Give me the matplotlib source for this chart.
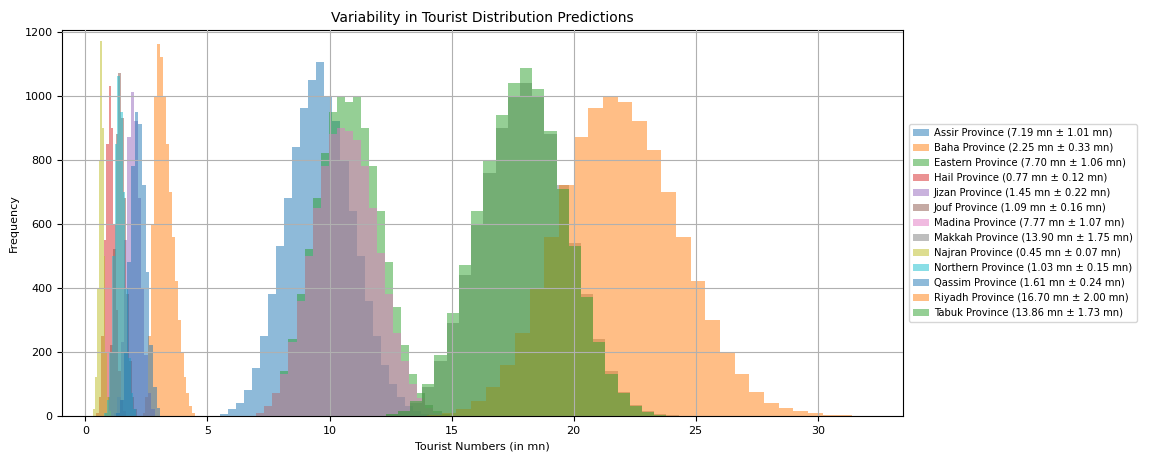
import numpy as np
import matplotlib
matplotlib.use("Agg")
import matplotlib.pyplot as plt

# (label, bin start, bin width, counts)
labels = ["Assir Province (7.19 mn ± 1.01 mn)", "Baha Province (2.25 mn ± 0.33 mn)",
          "Eastern Province (7.70 mn ± 1.06 mn)", "Hail Province (0.77 mn ± 0.12 mn)",
          "Jizan Province (1.45 mn ± 0.22 mn)", "Jouf Province (1.09 mn ± 0.16 mn)",
          "Madina Province (7.77 mn ± 1.07 mn)", "Makkah Province (13.90 mn ± 1.75 mn)",
          "Najran Province (0.45 mn ± 0.07 mn)", "Northern Province (1.03 mn ± 0.15 mn)",
          "Qassim Province (1.61 mn ± 0.24 mn)", "Riyadh Province (16.70 mn ± 2.00 mn)",
          "Tabuk Province (13.86 mn ± 1.73 mn)"]
starts = [5.5, 2.34, 7.0, 0.45, 1.16, 0.8, 7.0, 12.3, 0.33, 0.76, 1.27, 14.0, 12.3]
widths = [0.33, 0.12, 0.33, 0.1, 0.14, 0.11, 0.33, 0.5, 0.07, 0.11, 0.15, 0.6, 0.5]
counts = [
    [5, 20, 40, 80, 150, 250, 380, 530, 680, 840, 960, 1050, 1105, 1000, 920, 800, 640, 500, 360, 250, 160, 100, 60, 30, 15, 5],
    [10, 60, 250, 600, 1000, 1160, 1120, 1000, 850, 700, 560, 420, 300, 200, 120, 70, 30, 10],
    [10, 30, 70, 140, 240, 380, 520, 680, 820, 950, 1000, 980, 1000, 900, 780, 640, 480, 340, 220, 130, 70, 35, 15, 5],
    [10, 60, 250, 550, 850, 1030, 900, 600, 330, 140, 50, 15],
    [10, 60, 230, 550, 870, 1010, 920, 680, 400, 190, 70, 20],
    [10, 60, 220, 520, 880, 1070, 930, 680, 380, 170, 60, 20],
    [10, 30, 70, 130, 230, 360, 500, 650, 780, 880, 900, 890, 860, 780, 650, 510, 380, 260, 170, 100, 55, 25, 10],
    [5, 15, 40, 90, 170, 290, 440, 600, 760, 900, 1000, 1040, 1000, 880, 720, 540, 380, 240, 140, 75, 35, 15, 5, 2],
    [20, 120, 400, 800, 1170, 900, 500, 200, 60, 15],
    [10, 50, 200, 500, 850, 1060, 950, 700, 400, 180, 70, 20],
    [10, 50, 200, 480, 780, 950, 910, 720, 450, 220, 90, 25],
    [3, 8, 20, 45, 90, 160, 260, 400, 560, 720, 870, 960, 1000, 980, 920, 830, 700, 560, 420, 300, 200, 130, 75, 40, 25, 15, 8, 4, 2],
    [5, 15, 45, 100, 190, 320, 470, 640, 800, 940, 1040, 1085, 1020, 890, 710, 530, 370, 230, 130, 70, 30, 12, 4, 1],
]

fig = plt.figure(figsize=(11.52, 4.55), dpi=100)
ax = fig.add_axes([0.054, 0.086, 0.73, 0.848])
for i, (lab, s, w, c) in enumerate(zip(labels, starts, widths, counts)):
    edges = s + w * np.arange(len(c) + 1)
    ax.stairs(c, edges, fill=True, alpha=0.5, color=f"C{i % 10}", label=lab)
ax.set_xlim(-0.95, 33.5)
ax.set_ylim(0, 1205)
ax.grid(True)
ax.set_axisbelow(False)
ax.set_xlabel("Tourist Numbers (in mn)", fontsize=8)
ax.set_ylabel("Frequency", fontsize=8)
ax.set_title("Variability in Tourist Distribution Predictions", fontsize=10)
ax.tick_params(labelsize=8)
ax.legend(loc="center left", bbox_to_anchor=(1.003, 0.5), fontsize=7.2,
          handlelength=1.6, handletextpad=0.5, borderaxespad=0.3)
fig.savefig("out.png")
